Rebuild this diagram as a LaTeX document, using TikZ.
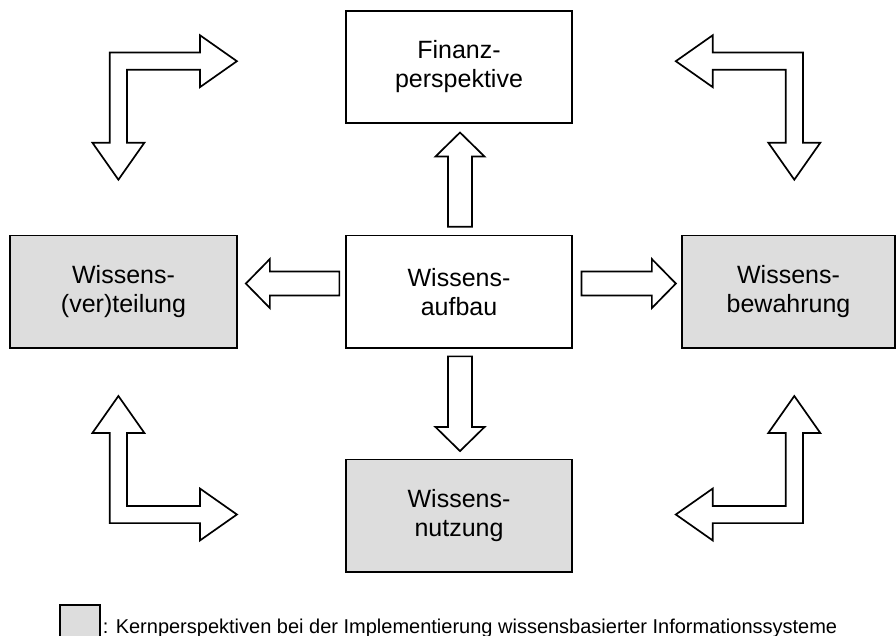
\documentclass[tikz,border=0pt]{standalone}
\usepackage{fontspec}
\setmainfont{Liberation Sans}
\usetikzlibrary{calc}
\definecolor{coregray}{RGB}{221,221,221}
\tikzset{
  persp/.style={draw=black, line width=1.7pt, minimum width=226pt,
    minimum height=112.5pt, align=center, inner sep=0pt,
    font=\fontsize{25}{29}\selectfont},
  core/.style={persp, fill=coregray},
  outline/.style={draw=black, fill=white, line width=1.7pt, line join=miter},
  % L-shaped double arrow, corner at the origin, arms along +x and +y
  pics/cornerarrow/.style={code={
    \draw[outline] (-8.6,-8.6) -- (81.5,-8.6) -- (81.5,-26) -- (118.5,0)
      -- (81.5,26) -- (81.5,8.6) -- (8.6,8.6) -- (8.6,81.5) -- (26,81.5)
      -- (0,118.5) -- (-26,81.5) -- (-8.6,81.5) -- cycle;
  }}
}
% straight hollow block arrow from #1 to the tip #2
\newcommand\hollowarrow[2]{%
  \coordinate (hb) at ($(#2)!24pt!(#1)$);
  \draw[outline] ($(#1)!12pt!90:(#2)$) -- ($(hb)!12pt!90:(#2)$)
    -- ($(hb)!24.5pt!90:(#2)$) -- (#2) -- ($(hb)!24.5pt!-90:(#2)$)
    -- ($(hb)!12pt!-90:(#2)$) -- ($(#1)!12pt!-90:(#2)$) -- cycle;
}
\begin{document}
\begin{tikzpicture}[x=1pt,y=-1pt]
\useasboundingbox (0,0) rectangle (896,636);

% perspectives
\node[persp] (finanz) at (459,67) {Finanz-\\perspektive};
\node[persp] (aufbau) at (459,291.75) {Wissens-\\aufbau};
\node[core] (verteilung) at (123.5,291.75) [minimum width=227pt] {Wissens-\\(ver)teilung};
\node[core] (bewahrung) at (788.5,291.75) [minimum width=213pt] {Wissens-\\bewahrung};
\node[core] (nutzung) at (459,515.75) {Wissens-\\nutzung};

% arrows leaving the central perspective
\coordinate (upS) at ($(aufbau.north)+(1,-7.8)$);
\coordinate (upE) at ($(finanz.south)+(1,8.4)$);
\coordinate (dnS) at ($(aufbau.south)+(1,7.5)$);
\coordinate (dnE) at ($(nutzung.north)+(1,-7.6)$);
\coordinate (lfS) at ($(aufbau.west)+(-5.8,-8.2)$);
\coordinate (lfE) at ($(verteilung.east)+(8,-8.2)$);
\coordinate (rtS) at ($(aufbau.east)+(8.7,-8.2)$);
\coordinate (rtE) at ($(bewahrung.west)+(-5.3,-8.2)$);
\hollowarrow{upS}{upE}
\hollowarrow{dnS}{dnE}
\hollowarrow{lfS}{lfE}
\hollowarrow{rtS}{rtE}

% corner arrows between the outer perspectives
\coordinate (cnw) at (118.4,61.2);
\coordinate (cne) at (794.3,61.2);
\coordinate (csw) at (118.4,514.5);
\coordinate (cse) at (794.3,514.5);
\pic at (cnw) {cornerarrow};
\pic[xscale=-1] at (cne) {cornerarrow};
\pic[yscale=-1] at (csw) {cornerarrow};
\pic[xscale=-1,yscale=-1] at (cse) {cornerarrow};

% legend
\node[draw=black, line width=1.2pt, fill=coregray, minimum width=40pt,
  minimum height=32pt, inner sep=0pt] (key) at (80,621) {};
\node[anchor=base west, inner sep=0pt, font=\fontsize{20}{24}\selectfont]
  (keytext) at ($(key.east |- 0,633)+(2,0)$)
  {: Kernperspektiven bei der Implementierung wissensbasierter Informationssysteme};
\end{tikzpicture}
\end{document}
